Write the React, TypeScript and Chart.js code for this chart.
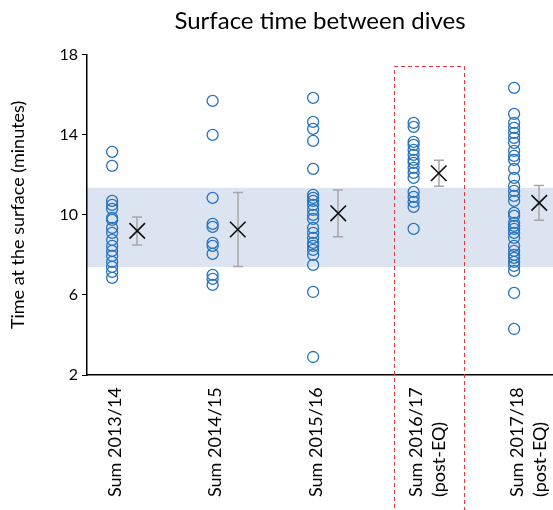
import { useEffect, useRef } from "react";
import { Chart, registerables } from "chart.js";

Chart.register(...registerables);

const categories: string[][] = [
  ["Sum 2013/14"],
  ["Sum 2014/15"],
  ["Sum 2015/16"],
  ["Sum 2016/17", "(post-EQ)"],
  ["Sum 2017/18", "(post-EQ)"],
];

const sum1314 = [13.15, 12.45, 10.7, 10.5, 10.3, 9.85, 9.75, 9.35, 9.1, 8.75, 8.45, 8.2, 7.95, 7.65, 7.4, 7.15, 6.85];
const sum1415 = [15.7, 14.0, 10.85, 9.55, 9.4, 8.6, 8.45, 8.05, 7.0, 6.8, 6.5];
const sum1516 = [15.85, 14.65, 14.3, 13.7, 12.3, 11.0, 10.85, 10.7, 10.5, 10.25, 10.0, 9.8, 9.35, 9.1, 8.85, 8.6, 8.45, 8.25, 8.0, 7.5, 6.15, 2.9];
const sum1617 = [14.6, 14.4, 13.65, 13.5, 13.25, 13.0, 12.75, 12.6, 12.35, 12.1, 11.85, 11.15, 10.9, 10.65, 10.4, 9.3];
const sum1718 = [16.35, 15.05, 14.6, 14.35, 14.1, 13.85, 13.6, 13.2, 12.95, 12.75, 12.3, 11.85, 11.45, 11.2, 10.95, 10.7, 10.1, 9.95, 9.6, 9.45, 9.3, 9.1, 8.85, 8.45, 8.2, 8.0, 7.85, 7.65, 7.45, 7.2, 6.1, 4.3];

const seriesValues = [sum1314, sum1415, sum1516, sum1617, sum1718];
const meanValues = [9.2, 9.27, 10.08, 12.08, 10.6];
const errorValues = [0.7, 1.85, 1.17, 0.65, 0.87];
const yTicks = [2, 6, 10, 14, 18];
const bandRange = [7.4, 11.35];
const highlightIndex = 3;

const FONT = "Lato";
const POINT_OFFSET = 0.25;
const MEAN_OFFSET = 0.5;

const decorPlugin = {
  id: "decor",
  beforeDraw(chart: any) {
    const { ctx, chartArea, scales } = chart;
    const y = scales.y;
    const top = y.getPixelForValue(bandRange[1]);
    const bottom = y.getPixelForValue(bandRange[0]);
    ctx.save();
    ctx.fillStyle = "#DCE4F2";
    ctx.fillRect(chartArea.left, top, chartArea.right - chartArea.left, bottom - top);
    ctx.restore();
  },
  beforeDatasetsDraw(chart: any) {
    const { ctx, scales } = chart;
    const x = scales.x;
    const y = scales.y;
    ctx.save();
    ctx.strokeStyle = "#A6A6A6";
    ctx.lineWidth = 1.5;
    meanValues.forEach((m, i) => {
      const px = Math.round(x.getPixelForValue(i + MEAN_OFFSET));
      const yt = y.getPixelForValue(m + errorValues[i]);
      const yb = y.getPixelForValue(m - errorValues[i]);
      ctx.beginPath();
      ctx.moveTo(px, yt);
      ctx.lineTo(px, yb);
      ctx.moveTo(px - 5, yt);
      ctx.lineTo(px + 5, yt);
      ctx.moveTo(px - 5, yb);
      ctx.lineTo(px + 5, yb);
      ctx.stroke();
    });
    ctx.restore();
  },
  afterDraw(chart: any) {
    const { ctx, scales, height } = chart;
    const x = scales.x;
    const y = scales.y;
    // highlight box
    const l = Math.round(x.getPixelForValue(highlightIndex + 0.055)) + 0.5;
    const r = Math.round(x.getPixelForValue(highlightIndex + 0.751)) + 0.5;
    const t = Math.round(y.getPixelForValue(17.45)) + 0.5;
    ctx.save();
    ctx.strokeStyle = "#E0393E";
    ctx.lineWidth = 1;
    ctx.setLineDash([4, 3]);
    ctx.beginPath();
    ctx.moveTo(l, height + 5);
    ctx.lineTo(l, t);
    ctx.lineTo(r, t);
    ctx.lineTo(r, height + 5);
    ctx.stroke();
    ctx.restore();

    // category labels
    ctx.save();
    ctx.fillStyle = "#000";
    ctx.font = `18px ${FONT}`;
    ctx.textAlign = "left";
    ctx.textBaseline = "middle";
    categories.forEach((lines, i) => {
      const baseX = x.getPixelForValue(i + POINT_OFFSET) + 3;
      lines.forEach((line, j) => {
        ctx.save();
        ctx.translate(baseX + j * 23, 497);
        ctx.rotate(-Math.PI / 2);
        ctx.fillText(line, 0, 0);
        ctx.restore();
      });
    });
    ctx.restore();
  },
};

export default function App() {
  const ref = useRef<HTMLCanvasElement | null>(null);
  useEffect(() => {
    document.body.style.margin = "0";
    if (!ref.current) return;
    const datasets: any[] = seriesValues.map((vals, i) => ({
      type: "scatter",
      label: categories[i].join(" "),
      data: vals.map((v) => ({ x: i + POINT_OFFSET, y: v })),
      pointStyle: "circle",
      pointRadius: 5.5,
      pointBorderWidth: 1.3,
      pointBorderColor: "#2673C0",
      pointBackgroundColor: "rgba(0,0,0,0)",
      showLine: false,
    }));
    datasets.push({
      type: "scatter",
      label: "Mean",
      data: meanValues.map((m, i) => ({ x: i + MEAN_OFFSET, y: m })),
      pointStyle: "crossRot",
      pointRadius: 11,
      pointBorderWidth: 1.6,
      pointBorderColor: "#111",
      pointBackgroundColor: "#111",
      showLine: false,
    });
    const chart = new Chart(ref.current, {
      type: "scatter",
      data: { datasets },
      plugins: [decorPlugin],
      options: {
        responsive: false,
        animation: false,
        layout: { padding: 0, autoPadding: false },
        plugins: {
          legend: { display: false },
          tooltip: { enabled: false },
          title: {
            display: true,
            fullSize: false,
            text: "Surface time between dives",
            color: "#000",
            font: { family: FONT, size: 24, weight: "normal" },
            padding: { top: 7, bottom: 19 },
          },
        },
        scales: {
          x: {
            type: "linear",
            min: 0,
            max: 4.637,
            ticks: { display: false },
            grid: { display: false },
            border: { display: true, color: "#000", width: 1.5 },
            afterFit: (s: any) => {
              s.height = 135;
            },
          },
          y: {
            type: "linear",
            min: 2,
            max: 18,
            afterBuildTicks: (s: any) => {
              s.ticks = yTicks.map((v) => ({ value: v }));
            },
            ticks: {
              color: "#000",
              font: { family: FONT, size: 16 },
              padding: 4,
            },
            grid: {
              drawOnChartArea: false,
              drawTicks: true,
              tickLength: 5,
              color: "#000",
              lineWidth: 1,
            },
            border: { display: true, color: "#000", width: 1.5 },
            title: {
              display: true,
              text: "Time at the surface (minutes)",
              color: "#000",
              font: { family: FONT, size: 18 },
              padding: { top: 7, bottom: 0 },
            },
            afterFit: (s: any) => {
              s.width = 87;
            },
          },
        },
      },
    });
    return () => chart.destroy();
  }, []);
  return (
    <div style={{ width: 553, height: 510 }}>
      <canvas ref={ref} width={553} height={510} />
    </div>
  );
}
